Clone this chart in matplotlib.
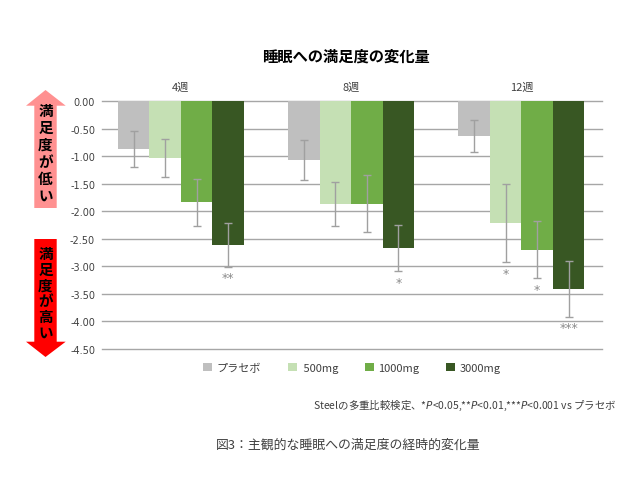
import matplotlib.pyplot as plt
from matplotlib.patches import Polygon
import numpy as np

plt.rcParams['font.family'] = ['Noto Sans CJK JP', 'DejaVu Sans']

# --------------------------
# Data
# --------------------------
weeks = ["4週", "8週", "12週"]
groups = ["プラセボ", " 500mg", "1000mg", "3000mg"]

placebo = [-0.87, -1.07, -0.64]
mg500 = [-1.03, -1.87, -2.22]
mg1000 = [-1.84, -1.86, -2.70]
mg3000 = [-2.61, -2.67, -3.41]

placebo_err = [0.33, 0.36, 0.29]
mg500_err = [0.34, 0.40, 0.71]
mg1000_err = [0.42, 0.51, 0.52]
mg3000_err = [0.40, 0.42, 0.51]

# significance marks: (week index, group index, label)
sig_marks = [(0, 3, "**"), (1, 3, "*"), (2, 1, "*"), (2, 2, "*"), (2, 3, "***")]

yticks = [0.0, -0.5, -1.0, -1.5, -2.0, -2.5, -3.0, -3.5, -4.0, -4.5]

colors = ["#bfbfbf", "#c5e0b4", "#70ad47", "#385723"]
err_color = "#a0a0a0"

W, H = 644, 481


def px(x, y):
    return (x / W, 1 - y / H)


fig = plt.figure(figsize=(6.44, 4.81), dpi=100)
ax = fig.add_axes([102 / W, 1 - 350 / H, 500 / W, 248 / H])

values = [placebo, mg500, mg1000, mg3000]
errors = [placebo_err, mg500_err, mg1000_err, mg3000_err]
x = np.arange(len(weeks))
bw = 0.185

for tick in yticks:
    ax.axhline(tick, color="#a6a6a6", lw=1.0, zorder=0, clip_on=False)

for i, (vals, errs) in enumerate(zip(values, errors)):
    xs = x + (i - 1.5) * bw
    ax.bar(xs, vals, width=bw, color=colors[i], label=groups[i], zorder=2)
    ax.errorbar(xs, vals, yerr=errs, fmt="none", ecolor=err_color,
                elinewidth=1.0, capsize=3, capthick=1.0, zorder=3)

for wi, g, lab in sig_marks:
    xs = wi + (g - 1.5) * bw
    yb = values[g][wi] - errors[g][wi]
    ax.text(xs, yb - 0.08, lab, ha="center", va="top", fontsize=9,
            color="#8c8c8c", family="DejaVu Sans")

for wi, w in enumerate(weeks):
    ax.text(wi, 0.25, w, ha="center", va="center", fontsize=8,
            color="#404040", clip_on=False)

ax.set_xlim(-0.464, 2.474)
ax.set_ylim(-4.5, 0)
ax.set_yticks(yticks)
ax.set_yticklabels([f"{t:.2f}" for t in yticks], fontsize=7, color="#404040",
                   family="DejaVu Sans")
ax.tick_params(axis="y", length=0, pad=5)
ax.set_xticks([])
for s in ax.spines.values():
    s.set_visible(False)

# title
fig.text(*px(346, 57), "睡眠への満足度の変化量", ha="center", va="center",
         fontsize=11, fontweight="bold")

# legend
leg = fig.legend(loc="center", bbox_to_anchor=px(352, 369), ncol=4,
                 frameon=False, fontsize=8, handlelength=0.8, handleheight=0.8,
                 handletextpad=0.4, columnspacing=2.4)
for t in leg.get_texts():
    t.set_color("#404040")

# footnote
fig.text(*px(617, 405),
         "Steelの多重比較検定、*$\\it{P}$<0.05,**$\\it{P}$<0.01,***$\\it{P}$<0.001 vs プラセボ",
         ha="right", va="center", fontsize=7.5, color="#404040")

# caption
fig.text(*px(216, 445), "図3：主観的な睡眠への満足度の経時的変化量", ha="left",
         va="center", fontsize=9.3, color="#404040")

# side arrows
up = [(34.3, 209), (34.3, 106.7), (26, 106.7), (45.5, 91), (65.7, 106.7),
      (56.7, 106.7), (56.7, 209)]
down = [(34.3, 240), (34.3, 342.7), (26, 342.7), (45.5, 358), (65.7, 342.7),
        (56.7, 342.7), (56.7, 240)]
fig.add_artist(Polygon([px(a, b) for a, b in up], closed=True,
                       transform=fig.transFigure, color="#ff9191", lw=0))
fig.add_artist(Polygon([px(a, b) for a, b in down], closed=True,
                       transform=fig.transFigure, color="#ff0000", lw=0))

# vertical labels, one character at a time
for k, ch in enumerate("満足度が低い"):
    fig.text(*px(45.5, 111 + 17 * k), ch, ha="center", va="center",
             fontsize=10.5, fontweight="bold")
for k, ch in enumerate("満足度が高い"):
    fig.text(*px(45.5, 254 + 15.8 * k), ch, ha="center", va="center",
             fontsize=10.5, fontweight="bold")

fig.savefig("out.png", dpi=100)
